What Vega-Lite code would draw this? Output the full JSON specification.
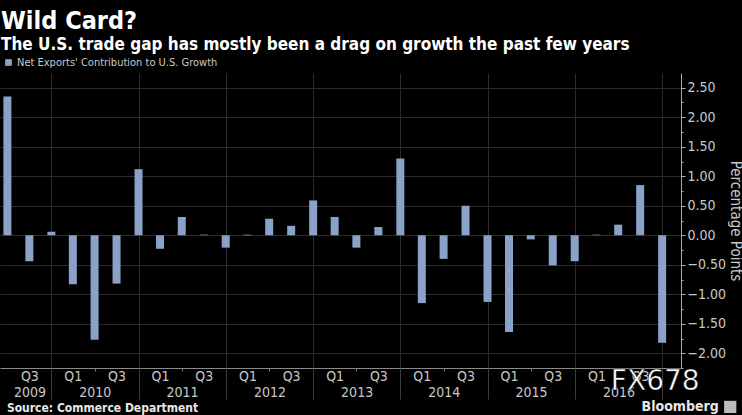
{
  "$schema": "https://vega.github.io/schema/vega-lite/v6.json",
  "width": 681,
  "height": 295,
  "autosize": {"type": "none"},
  "padding": {"left": 0, "top": 73, "right": 61, "bottom": 47},
  "background": "#000000",
  "config": {
    "view": {"stroke": null},
    "font": "DejaVu Sans Condensed",
    "axis": {"labelFont": "DejaVu Sans Condensed", "titleFont": "DejaVu Sans Condensed"}
  },
  "title": {
    "text": "Wild Card?",
    "subtitle": "The U.S. trade gap has mostly been a drag on growth the past few years",
    "anchor": "start",
    "frame": "group",
    "color": "#ffffff",
    "subtitleColor": "#ffffff",
    "font": "DejaVu Sans Condensed",
    "fontSize": 25,
    "fontWeight": "bold",
    "subtitleFont": "DejaVu Sans Condensed",
    "subtitleFontSize": 17,
    "subtitleFontWeight": "bold",
    "subtitlePadding": 3,
    "offset": 4,
    "dx": 1
  },
  "data": {
    "values": [
      {"date": "2009-06-30", "value": 2.35},
      {"date": "2009-09-30", "value": -0.44},
      {"date": "2009-12-31", "value": 0.06},
      {"date": "2010-03-31", "value": -0.83},
      {"date": "2010-06-30", "value": -1.77},
      {"date": "2010-09-30", "value": -0.82},
      {"date": "2010-12-31", "value": 1.12},
      {"date": "2011-03-31", "value": -0.23},
      {"date": "2011-06-30", "value": 0.31},
      {"date": "2011-09-30", "value": 0.01},
      {"date": "2011-12-31", "value": -0.21},
      {"date": "2012-03-31", "value": 0.01},
      {"date": "2012-06-30", "value": 0.28},
      {"date": "2012-09-30", "value": 0.16},
      {"date": "2012-12-31", "value": 0.59},
      {"date": "2013-03-31", "value": 0.31},
      {"date": "2013-06-30", "value": -0.21},
      {"date": "2013-09-30", "value": 0.14},
      {"date": "2013-12-31", "value": 1.30},
      {"date": "2014-03-31", "value": -1.15},
      {"date": "2014-06-30", "value": -0.40},
      {"date": "2014-09-30", "value": 0.50},
      {"date": "2014-12-31", "value": -1.13},
      {"date": "2015-03-31", "value": -1.64},
      {"date": "2015-06-30", "value": -0.07},
      {"date": "2015-09-30", "value": -0.51},
      {"date": "2015-12-31", "value": -0.44},
      {"date": "2016-03-31", "value": 0.01},
      {"date": "2016-06-30", "value": 0.18},
      {"date": "2016-09-30", "value": 0.85},
      {"date": "2016-12-31", "value": -1.82}
    ]
  },
  "resolve": {"axis": {"x": "independent", "y": "independent"}},
  "layer": [
    {
      "mark": {"type": "bar", "width": 8, "clip": true},
      "encoding": {
        "x": {
          "field": "date",
          "type": "temporal",
          "scale": {"domain": [{"year": 2009, "month": 6, "date": 20}, {"year": 2017, "month": 2, "date": 27}]},
          "axis": {
            "orient": "bottom",
            "values": [
              {"year": 2009, "month": 9, "date": 30},
              {"year": 2010, "month": 3, "date": 31}, {"year": 2010, "month": 9, "date": 30},
              {"year": 2011, "month": 3, "date": 31}, {"year": 2011, "month": 9, "date": 30},
              {"year": 2012, "month": 3, "date": 31}, {"year": 2012, "month": 9, "date": 30},
              {"year": 2013, "month": 3, "date": 31}, {"year": 2013, "month": 9, "date": 30},
              {"year": 2014, "month": 3, "date": 31}, {"year": 2014, "month": 9, "date": 30},
              {"year": 2015, "month": 3, "date": 31}, {"year": 2015, "month": 9, "date": 30},
              {"year": 2016, "month": 3, "date": 31}, {"year": 2016, "month": 9, "date": 30}
            ],
            "labelExpr": "month(datum.value) < 6 ? 'Q1' : 'Q3'",
            "tickSize": 0,
            "grid": false,
            "domain": true,
            "domainColor": "#8a8a8a",
            "labelColor": "#c8c8c8",
            "labelFontSize": 14,
            "labelPadding": 1,
            "labelFlush": false,
            "labelOverlap": false,
            "title": null
          }
        },
        "y": {
          "field": "value",
          "type": "quantitative",
          "scale": {"domain": [-2.25, 2.75], "nice": false, "zero": false},
          "axis": {
            "orient": "right",
            "values": [-2, -1.5, -1, -0.5, 0, 0.5, 1, 1.5, 2, 2.5],
            "format": ".2f",
            "grid": true,
            "gridColor": "#2c2c2c",
            "tickSize": 4,
            "tickColor": "#aaaaaa",
            "domainColor": "#aaaaaa",
            "labelColor": "#c8c8c8",
            "labelFontSize": 14,
            "labelPadding": 2,
            "title": "Percentage Points",
            "titleAngle": 90,
            "titleColor": "#c8c8c8",
            "titleFontSize": 15,
            "titleFontWeight": "normal",
            "titlePadding": 2
          }
        },
        "color": {
          "datum": "Net Exports' Contribution to U.S. Growth",
          "scale": {"range": ["#8aa2c8"]},
          "legend": {
            "orient": "none",
            "legendX": 3,
            "legendY": -16,
            "title": null,
            "padding": 0,
            "symbolType": "square",
            "symbolSize": 45,
            "symbolStrokeWidth": 0,
            "labelColor": "#c8c8c8",
            "labelFontSize": 11,
            "labelFont": "DejaVu Sans Condensed",
            "labelLimit": 400,
            "labelOffset": 3
          }
        }
      }
    },
    {
      "mark": {"type": "tick", "opacity": 0},
      "encoding": {
        "x": {
          "field": "date",
          "type": "temporal",
          "axis": {
            "orient": "bottom",
            "values": [
              {"year": 2009, "month": 10, "date": 1},
              {"year": 2010, "month": 7, "date": 1},
              {"year": 2011, "month": 7, "date": 1},
              {"year": 2012, "month": 7, "date": 1},
              {"year": 2013, "month": 7, "date": 1},
              {"year": 2014, "month": 7, "date": 1},
              {"year": 2015, "month": 7, "date": 1},
              {"year": 2016, "month": 7, "date": 1}
            ],
            "labelExpr": "'' + year(datum.value)",
            "tickSize": 0,
            "grid": false,
            "domain": false,
            "labelColor": "#c8c8c8",
            "labelFontSize": 14,
            "labelPadding": 17,
            "labelFlush": false,
            "labelOverlap": false,
            "title": null
          }
        },
        "y": {"field": "value", "type": "quantitative", "axis": null}
      }
    },
    {
      "mark": {"type": "tick", "opacity": 0},
      "encoding": {
        "x": {
          "field": "date",
          "type": "temporal",
          "axis": {
            "orient": "bottom",
            "values": [
              {"year": 2009, "month": 12, "date": 31},
              {"year": 2010, "month": 12, "date": 31},
              {"year": 2011, "month": 12, "date": 31},
              {"year": 2012, "month": 12, "date": 31},
              {"year": 2013, "month": 12, "date": 31},
              {"year": 2014, "month": 12, "date": 31},
              {"year": 2015, "month": 12, "date": 31},
              {"year": 2016, "month": 12, "date": 31}
            ],
            "labels": false,
            "tickSize": 31,
            "tickColor": "#3c3c3c",
            "grid": true,
            "gridColor": "#2c2c2c",
            "domain": false,
            "title": null
          }
        },
        "y": {"field": "value", "type": "quantitative", "axis": null}
      }
    },
    {
      "mark": {"type": "tick", "opacity": 0},
      "encoding": {
        "x": {
          "field": "date",
          "type": "temporal",
          "axis": {
            "orient": "bottom",
            "values": [
              {"year": 2010, "month": 6, "date": 30},
              {"year": 2011, "month": 6, "date": 30},
              {"year": 2012, "month": 6, "date": 30},
              {"year": 2013, "month": 6, "date": 30},
              {"year": 2014, "month": 6, "date": 30},
              {"year": 2015, "month": 6, "date": 30},
              {"year": 2016, "month": 6, "date": 30}
            ],
            "labels": false,
            "tickSize": 3,
            "tickColor": "#777777",
            "grid": false,
            "domain": false,
            "title": null
          }
        },
        "y": {
          "field": "value",
          "type": "quantitative",
          "axis": {
            "orient": "right",
            "values": [-2.25, -1.75, -1.25, -0.75, -0.25, 0.25, 0.75, 1.25, 1.75, 2.25],
            "labels": false,
            "tickSize": 2,
            "tickColor": "#aaaaaa",
            "grid": false,
            "domain": false,
            "title": null
          }
        }
      }
    },
    {
      "transform": [{"filter": "datum.date == '2016-12-31'"}],
      "mark": {
        "type": "point",
        "shape": "M -1 0 L -0.87 -0.31 L 1 -0.31 L 1 0.31 L -0.87 0.31 Z",
        "filled": true,
        "size": 1764,
        "color": "#8aa0c0",
        "opacity": 1
      },
      "encoding": {
        "x": {"datum": {"year": 2017, "month": 5, "date": 24}, "type": "temporal", "axis": null},
        "y": {"field": "value", "type": "quantitative", "axis": null}
      }
    },
    {
      "transform": [{"filter": "datum.date == '2016-12-31'"}],
      "mark": {"type": "text", "fontSize": 14, "color": "#1c2a48", "align": "center", "baseline": "middle", "dx": 2, "dy": 0},
      "encoding": {
        "x": {"datum": {"year": 2017, "month": 5, "date": 24}, "type": "temporal", "axis": null},
        "y": {"field": "value", "type": "quantitative", "axis": null},
        "text": {"field": "value", "type": "quantitative", "format": ".2f"}
      }
    },
    {
      "data": {"values": [{"t": "FX678"}]},
      "mark": {"type": "text", "font": "DejaVu Sans", "fontSize": 28, "color": "#ffffff", "stroke": "#000000", "strokeWidth": 0.5, "align": "center", "baseline": "middle"},
      "encoding": {
        "x": {"datum": {"year": 2016, "month": 12, "date": 2}, "type": "temporal", "axis": null},
        "y": {"datum": -2.48, "type": "quantitative", "axis": null},
        "text": {"field": "t"}
      }
    },
    {
      "data": {"values": [{"t": "Source: Commerce Department"}]},
      "mark": {"type": "text", "font": "DejaVu Sans Condensed", "fontWeight": "bold", "fontSize": 12, "color": "#e8e8e8", "align": "left", "baseline": "middle"},
      "encoding": {
        "x": {"datum": {"year": 2009, "month": 6, "date": 28}, "type": "temporal", "axis": null},
        "y": {"datum": -2.93, "type": "quantitative", "axis": null},
        "text": {"field": "t"}
      }
    },
    {
      "data": {"values": [{"t": "Bloomberg"}]},
      "mark": {"type": "text", "font": "DejaVu Sans Condensed", "fontWeight": "bold", "fontSize": 14, "color": "#e8e8e8", "align": "right", "baseline": "middle"},
      "encoding": {
        "x": {"datum": {"year": 2017, "month": 8, "date": 25}, "type": "temporal", "axis": null},
        "y": {"datum": -2.91, "type": "quantitative", "axis": null},
        "text": {"field": "t"}
      }
    },
    {
      "data": {"values": [{"t": "icon"}]},
      "mark": {"type": "point", "shape": "square", "filled": true, "size": 150, "color": "#bcbcbc", "opacity": 1},
      "encoding": {
        "x": {"datum": {"year": 2017, "month": 10, "date": 12}, "type": "temporal", "axis": null},
        "y": {"datum": -2.91, "type": "quantitative", "axis": null}
      }
    }
  ]
}
